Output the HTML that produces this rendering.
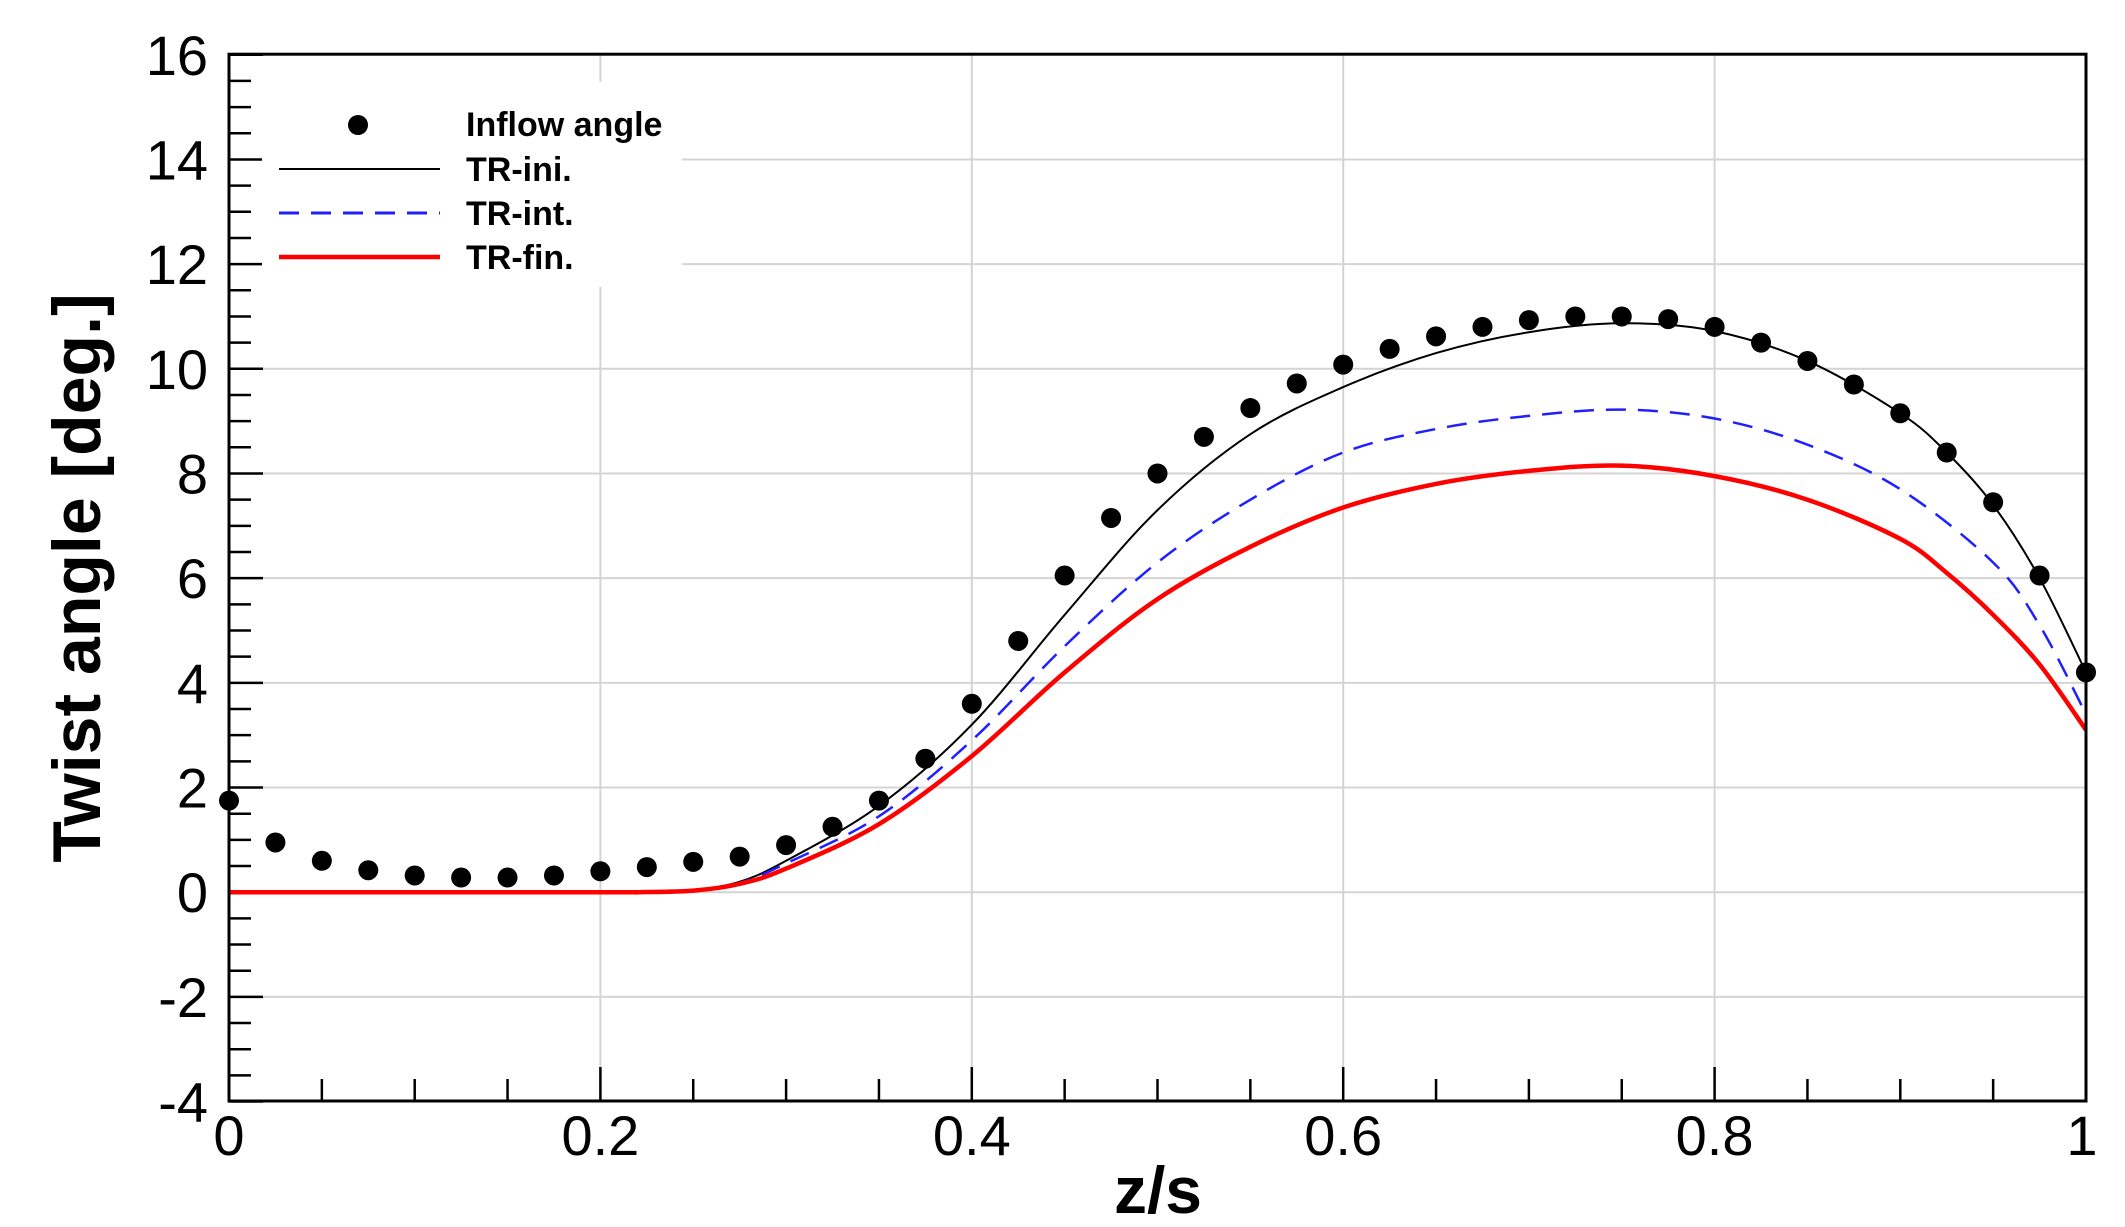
<!DOCTYPE html>
<html><head><meta charset="utf-8"><style>
html,body{margin:0;padding:0;background:#fff;}
svg{display:block;font-family:"Liberation Sans",Arial,sans-serif;}
</style></head><body>
<svg id="s" width="2125" height="1227" viewBox="0 0 2125 1227" xmlns="http://www.w3.org/2000/svg">
<g id="grid" stroke="#d4d4d4" stroke-width="2"></g>
<g id="ticks" stroke="#000" stroke-width="2.5"></g>
<rect x="262" y="82" width="420" height="205" fill="#fff"/>
<g id="series"></g>
<rect id="frame" fill="none" stroke="#000" stroke-width="3"/>
<g id="labels" font-size="56" fill="#000"></g>
<text x="1158" y="1213" font-size="66" font-weight="bold" text-anchor="middle">z/s</text>
<text transform="translate(100,578) rotate(-90)" font-size="68" font-weight="bold" text-anchor="middle">Twist angle [deg.]</text>
<g font-size="34" font-weight="bold">
<circle cx="358" cy="125" r="10" fill="#000"/>
<text x="466" y="136">Inflow angle</text>
<line x1="279" y1="169" x2="440" y2="169" stroke="#000" stroke-width="2"/>
<text x="466" y="181">TR-ini.</text>
<line x1="279" y1="213" x2="440" y2="213" stroke="#2020ff" stroke-width="3" stroke-dasharray="20,12"/>
<text x="466" y="225">TR-int.</text>
<line x1="279" y1="257" x2="440" y2="257" stroke="#f00" stroke-width="4.5"/>
<text x="466" y="269">TR-fin.</text>
</g>
</svg>
<script>
var L=229,R=2086,T=54.2,B=1101,Y0=892.2,U=(B-T)/20;
function X(z){return L+z*(R-L);}function Yv(v){return Y0-v*U;}
var ns="http://www.w3.org/2000/svg";
function el(p,t,a){var e=document.createElementNS(ns,t);for(var k in a)e.setAttribute(k,a[k]);document.getElementById(p).appendChild(e);return e;}
var f=document.getElementById("frame");f.setAttribute("x",L);f.setAttribute("y",T);f.setAttribute("width",R-L);f.setAttribute("height",B-T);
for(var i=1;i<5;i++){el("grid","line",{x1:X(i*0.2),x2:X(i*0.2),y1:T,y2:B});}
for(var v=-2;v<16;v+=2){el("grid","line",{x1:L,x2:R,y1:Yv(v),y2:Yv(v)});}
for(var i=0;i<=20;i++){var z=i*0.05,len=(i%4==0)?34:22;el("ticks","line",{x1:X(z),x2:X(z),y1:B,y2:B-len});}
for(var i=0;i<=40;i++){var v=-4+i*0.5,len=(i%4==0)?34:22;el("ticks","line",{x1:L,x2:L+len,y1:Yv(v),y2:Yv(v)});}
var xl=["0","0.2","0.4","0.6","0.8","1"];
for(var i=0;i<6;i++){var t=el("labels","text",{x:X(i*0.2)+(i==5?-4:0),y:1155,"text-anchor":"middle"});t.textContent=xl[i];}
for(var v=-4;v<=16;v+=2){var t=el("labels","text",{x:208,y:Yv(v)+20,"text-anchor":"end"});t.textContent=v;}
function path(pts,a){
  var P=pts.map(function(p){return [X(p[0]),Yv(p[1])];});
  var d="M"+P[0][0].toFixed(1)+","+P[0][1].toFixed(1);
  for(var i=0;i<P.length-1;i++){
    var p0=P[Math.max(i-1,0)],p1=P[i],p2=P[i+1],p3=P[Math.min(i+2,P.length-1)];
    var c1=[p1[0]+(p2[0]-p0[0])/6,p1[1]+(p2[1]-p0[1])/6],c2=[p2[0]-(p3[0]-p1[0])/6,p2[1]-(p3[1]-p1[1])/6];
    d+="C"+c1[0].toFixed(1)+","+c1[1].toFixed(1)+" "+c2[0].toFixed(1)+","+c2[1].toFixed(1)+" "+p2[0].toFixed(1)+","+p2[1].toFixed(1);
  }
  a.d=d;a.fill="none";el("series","path",a);}
var ini=[[0,0],[0.2,0],[0.22,0],[0.25,0.04],[0.275,0.2],[0.3,0.6],[0.35,1.65],[0.4,3.2],[0.45,5.3],[0.5,7.3],[0.55,8.75],[0.6,9.65],[0.65,10.3],[0.7,10.7],[0.75,10.87],[0.8,10.72],[0.85,10.15],[0.9,9.15],[0.925,8.4],[0.95,7.4],[0.975,6.0],[1,4.2]];
var inte=[[0,0],[0.2,0],[0.22,0],[0.25,0.04],[0.275,0.18],[0.3,0.55],[0.35,1.45],[0.4,2.9],[0.45,4.7],[0.5,6.3],[0.55,7.5],[0.6,8.4],[0.65,8.85],[0.7,9.1],[0.75,9.22],[0.8,9.05],[0.85,8.55],[0.9,7.7],[0.95,6.3],[0.975,5.1],[1,3.4]];
var fin=[[0,0],[0.2,0],[0.22,0],[0.25,0.03],[0.275,0.16],[0.3,0.45],[0.35,1.3],[0.4,2.6],[0.45,4.2],[0.5,5.6],[0.55,6.6],[0.6,7.35],[0.65,7.8],[0.7,8.05],[0.75,8.15],[0.8,7.95],[0.85,7.5],[0.9,6.75],[0.925,6.1],[0.95,5.3],[0.975,4.35],[1,3.1]];
path(ini,{stroke:"#000","stroke-width":2});
path(inte,{stroke:"#2020ff","stroke-width":2.5,"stroke-dasharray":"20,12"});
path(fin,{stroke:"#f00","stroke-width":4.5});
var inf=[1.75,0.95,0.6,0.42,0.32,0.28,0.28,0.32,0.4,0.48,0.58,0.68,0.9,1.25,1.75,2.55,3.6,4.8,6.05,7.15,8.0,8.7,9.25,9.72,10.08,10.38,10.62,10.8,10.93,11.0,11.0,10.95,10.8,10.5,10.15,9.7,9.15,8.4,7.45,6.05,4.2];
inf.forEach(function(v,i){el("series","circle",{cx:X(i*0.025),cy:Yv(v),r:10,fill:"#000"});});
</script>
</body></html>
